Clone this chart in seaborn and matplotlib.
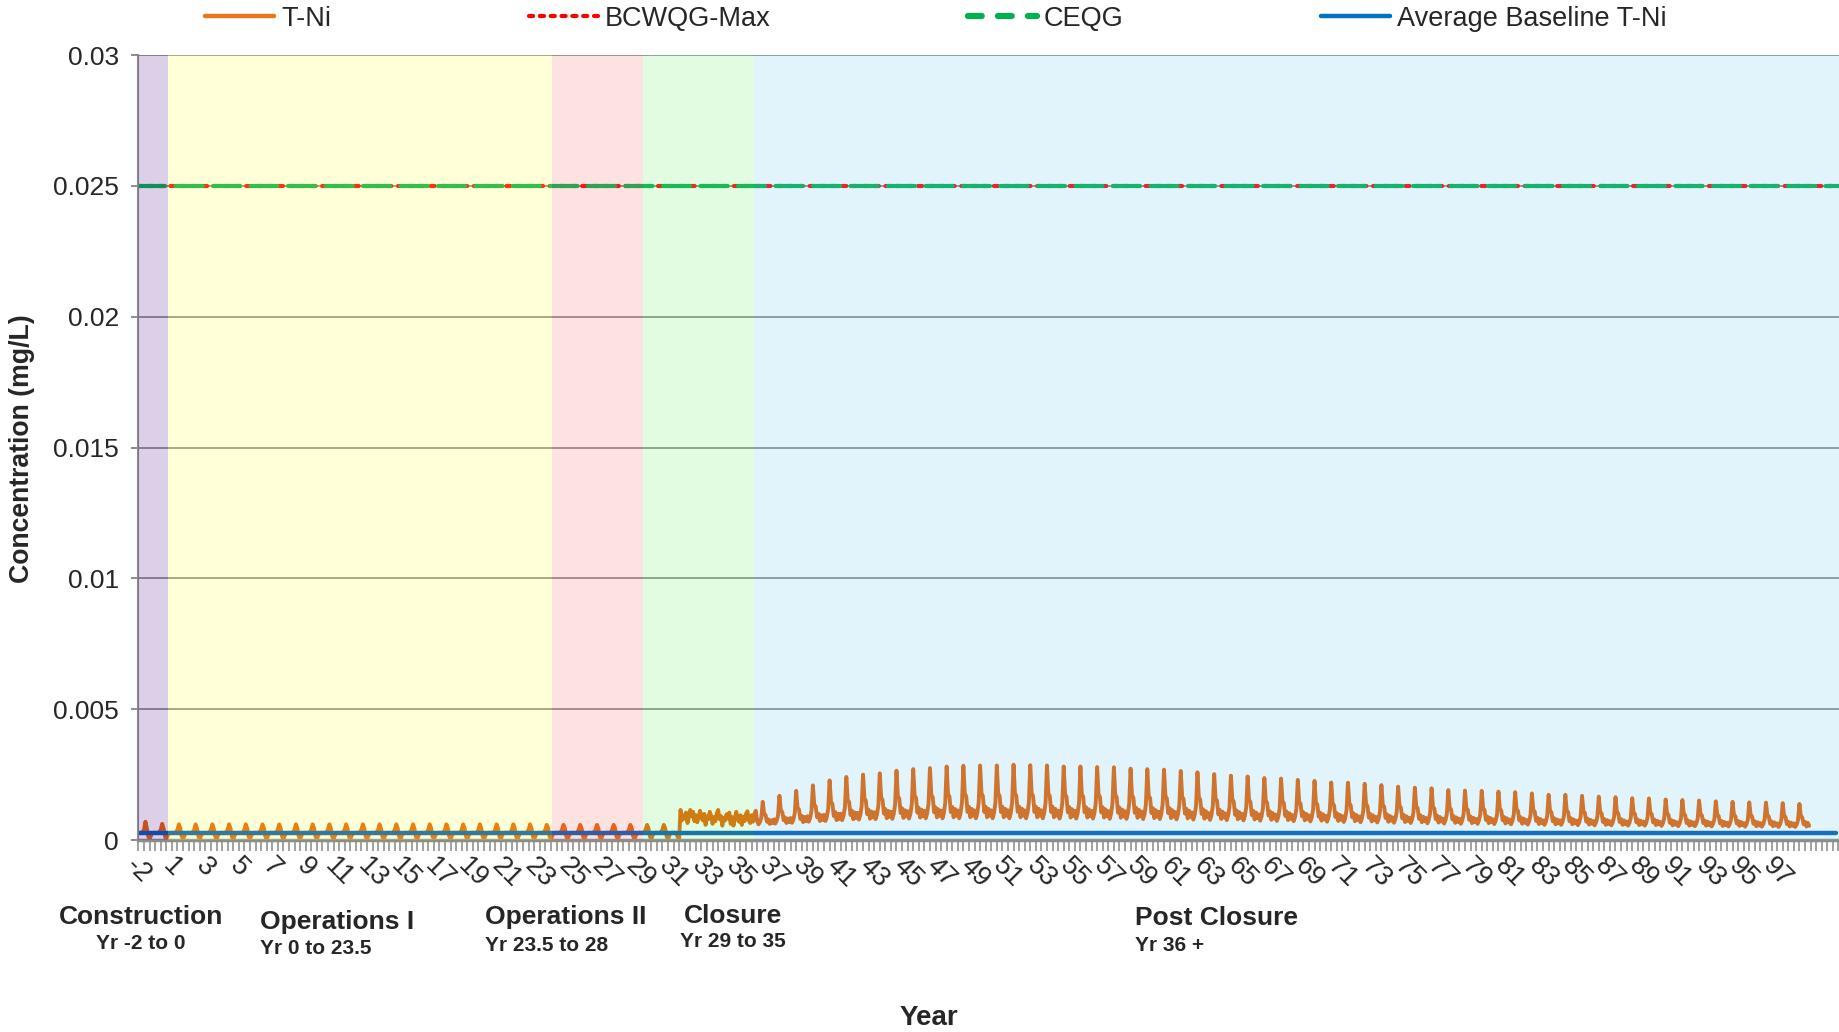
import numpy as np
import matplotlib
matplotlib.use("Agg")
import matplotlib.pyplot as plt
import seaborn as sns
from matplotlib.lines import Line2D

sns.set_theme(style="white")
plt.rcParams["font.family"] = ["Liberation Sans", "DejaVu Sans"]

# ---------------- data ----------------
# x position: 0 = first category ("-2"), one unit per year, monthly points
xtick_labels = ["-2"] + [str(v) for v in range(1, 98, 2)]

# Operations: typical monthly T-Ni values in one year (mg/L)
ops_profile = [0.00028, 0.00027, 0.00028, 0.00030, 0.00040, 0.00060,
               0.00045, 0.00015, 0.00002, 0.00018, 0.00026, 0.00028]
# annual spike height during construction / operations (years idx 0..31)
ops_peaks = [0.00070, 0.00062] + [0.00060] * 22 + [0.00058] * 8
ops_tail = [0.00028, 0.00028, 0.00025, 0.00012, 0.00002]

# Closure: monthly values
closure_vals = [0.00115, 0.00075, 0.00095, 0.00082, 0.00105, 0.00065, 0.00088, 0.00115,
                0.00090, 0.00108, 0.00072, 0.00095, 0.00068, 0.00088, 0.00112, 0.00085,
                0.00075, 0.00100, 0.00058, 0.00090, 0.00080, 0.00108, 0.00092, 0.00062,
                0.00088, 0.00072, 0.00102, 0.00115, 0.00080, 0.00092, 0.00055, 0.00085,
                0.00075, 0.00098, 0.00082, 0.00105, 0.00062, 0.00088, 0.00055, 0.00082,
                0.00108, 0.00080, 0.00070, 0.00095, 0.00058, 0.00088, 0.00072, 0.00100,
                0.00110, 0.00075, 0.00065, 0.00095, 0.00070, 0.00098, 0.00112]

# Post closure: annual peak and trough (years idx 37..99)
post_peaks = [0.00146, 0.00169, 0.00188, 0.00209, 0.00228, 0.00241, 0.00250, 0.00255,
              0.00265, 0.00271, 0.00275, 0.00281, 0.00284, 0.00285, 0.00285, 0.00288,
              0.00286, 0.00285, 0.00281, 0.00281, 0.00279, 0.00278, 0.00273, 0.00271,
              0.00269, 0.00264, 0.00259, 0.00252, 0.00246, 0.00243, 0.00237, 0.00235,
              0.00230, 0.00226, 0.00220, 0.00219, 0.00215, 0.00210, 0.00204, 0.00200,
              0.00198, 0.00191, 0.00189, 0.00188, 0.00185, 0.00183, 0.00178, 0.00173,
              0.00173, 0.00169, 0.00166, 0.00164, 0.00160, 0.00159, 0.00155, 0.00153,
              0.00151, 0.00148, 0.00146, 0.00144, 0.00143, 0.00141, 0.00138]
post_floor = [0.00060, 0.00063, 0.00066, 0.00070, 0.00073, 0.00076, 0.00078, 0.00080,
              0.00081, 0.00082, 0.00083, 0.00083, 0.00083, 0.00083, 0.00083, 0.00083,
              0.00083, 0.00083, 0.00082, 0.00082, 0.00082, 0.00081, 0.00081, 0.00080,
              0.00080, 0.00079, 0.00078, 0.00077, 0.00076, 0.00075, 0.00074, 0.00073,
              0.00072, 0.00071, 0.00070, 0.00069, 0.00068, 0.00067, 0.00066, 0.00065,
              0.00064, 0.00063, 0.00062, 0.00062, 0.00061, 0.00060, 0.00059, 0.00058,
              0.00058, 0.00057, 0.00056, 0.00056, 0.00055, 0.00055, 0.00054, 0.00053,
              0.00053, 0.00052, 0.00052, 0.00051, 0.00051, 0.00050, 0.00050]
# within-year shape (fraction between trough and peak) by month
post_shape = [0.15, 0.00, 0.10, 0.30, 1.00, 0.47, 0.42, 0.12, 0.22, 0.02, 0.18, 0.05]

guideline_value = 0.025          # BCWQG-Max and CEQG
baseline_value = 0.00028         # Average Baseline T-Ni
line_extent = [0.0, 101.7]
baseline_extent = [0.0, 101.5]

phases = [  # (start, end, colour of the tint)
    (0.0, 1.79, "#50148C"),
    (1.79, 24.75, "#FFFF3C"),
    (24.75, 30.15, "#F56E6E"),
    (30.15, 36.79, "#6EF06E"),
    (36.79, 101.7, "#6EC8EB"),
]

# ---------------- build monthly T-Ni ----------------
tni = []
for pk in ops_peaks:
    yr = list(ops_profile)
    yr[5] = pk
    tni.extend(yr)
tni.extend(ops_tail)
tni.extend(closure_vals)
for pk, fl in zip(post_peaks, post_floor):
    tni.extend([fl + f * (pk - fl) for f in post_shape])
tni = np.array(tni)
tx = np.arange(len(tni)) / 12.0

# ---------------- figure ----------------
fig = plt.figure(figsize=(18.39, 10.32), dpi=100)
ax = fig.add_axes([0.0753, 0.186, 0.9247, 0.7607])
ax.set_facecolor("white")

sns.lineplot(x=tx, y=tni, ax=ax, color="#E86000", lw=2.8, estimator=None, zorder=2)
sns.lineplot(x=line_extent, y=[guideline_value] * 2, ax=ax, color="#FF0000", lw=3,
             linestyle=(0, (1, 1.6)), dash_capstyle="round", estimator=None, zorder=2)
sns.lineplot(x=line_extent, y=[guideline_value] * 2, ax=ax, color="#00B050", lw=3,
             linestyle=(0, (6.5, 2.5)), dash_capstyle="round", estimator=None, zorder=2.1)
sns.lineplot(x=baseline_extent, y=[baseline_value] * 2, ax=ax, color="#005AB5", lw=3.2,
             estimator=None, zorder=2.2)

for s, e, c in phases:
    ax.axvspan(s, e, color=c, alpha=0.2, lw=0, zorder=3)

ax.set_xlim(0, 101.7)
ax.set_ylim(0, 0.03)
ax.set_yticks([0, 0.005, 0.01, 0.015, 0.02, 0.025, 0.03])
ax.set_yticklabels(["0", "0.005", "0.01", "0.015", "0.02", "0.025", "0.03"], fontsize=19)
ax.set_xticks(np.arange(0, 99, 2))
ax.set_xticklabels(xtick_labels, rotation=-45, ha="center", fontsize=19.5)
ax.set_xticks(np.arange(0, 101.7, 1 / 3), minor=True)
ax.tick_params(axis="x", which="both", direction="out", length=8, width=1.3,
               color="#9A9A9A", pad=1, bottom=True)
ax.tick_params(axis="y", which="major", direction="out", length=5, width=1.4,
               color="#8C8C8C", pad=9, left=True)
ax.yaxis.grid(True, color="#8C8C8C", lw=1.3, zorder=1)
ax.xaxis.grid(False)
ax.set_axisbelow(True)
for side in ["top", "right"]:
    ax.spines[side].set_visible(False)
ax.spines["left"].set_color("#8C8C8C")
ax.spines["left"].set_linewidth(1.5)
ax.spines["bottom"].set_color("#8C8C8C")
ax.spines["bottom"].set_linewidth(2.5)
ax.set_xlabel("")
ax.set_ylabel("")

fig.text(0.0118, 0.565, "Concentration (mg/L)", rotation=90, ha="center", va="center",
         fontsize=19.2, fontweight="bold")
fig.text(0.505, 0.0136, "Year", ha="center", va="center", fontsize=20, fontweight="bold")

big, small = 19, 15
fig.text(0.0765, 0.1114, "Construction", ha="center", va="center", fontsize=big,
         fontweight="bold")
fig.text(0.0765, 0.0853, "Yr -2 to 0", ha="center", va="center", fontsize=small,
         fontweight="bold")
fig.text(0.1416, 0.1068, "Operations I", ha="left", va="center", fontsize=big,
         fontweight="bold")
fig.text(0.1416, 0.0806, "Yr 0 to 23.5", ha="left", va="center", fontsize=small,
         fontweight="bold")
fig.text(0.264, 0.1114, "Operations II", ha="left", va="center", fontsize=big,
         fontweight="bold")
fig.text(0.264, 0.084, "Yr 23.5 to 28", ha="left", va="center", fontsize=small,
         fontweight="bold")
fig.text(0.3986, 0.1124, "Closure", ha="center", va="center", fontsize=big,
         fontweight="bold")
fig.text(0.3986, 0.0875, "Yr 29 to 35", ha="center", va="center", fontsize=small,
         fontweight="bold")
fig.text(0.6173, 0.1102, "Post Closure", ha="left", va="center", fontsize=big,
         fontweight="bold")
fig.text(0.6173, 0.084, "Yr 36 +", ha="left", va="center", fontsize=small,
         fontweight="bold")

handles = [
    Line2D([], [], color="#E8761A", lw=3.2),
    Line2D([], [], color="#FF0000", lw=3, linestyle=(0, (1, 1.6)), dash_capstyle="round"),
    Line2D([], [], color="#00B050", lw=4.5, linestyle=(0, (2.2, 2.6)), dash_capstyle="round"),
    Line2D([], [], color="#0070C0", lw=3.2),
]
labels = ["T-Ni", "BCWQG-Max", "CEQG", "Average Baseline T-Ni"]
fig.legend(handles, labels, loc="center", bbox_to_anchor=(0.509, 0.9818), ncol=4,
           frameon=False, fontsize=19.5, handlelength=2.55, handletextpad=0.25,
           columnspacing=7.3, borderaxespad=0, borderpad=0)

fig.savefig("out.png", dpi=100)
